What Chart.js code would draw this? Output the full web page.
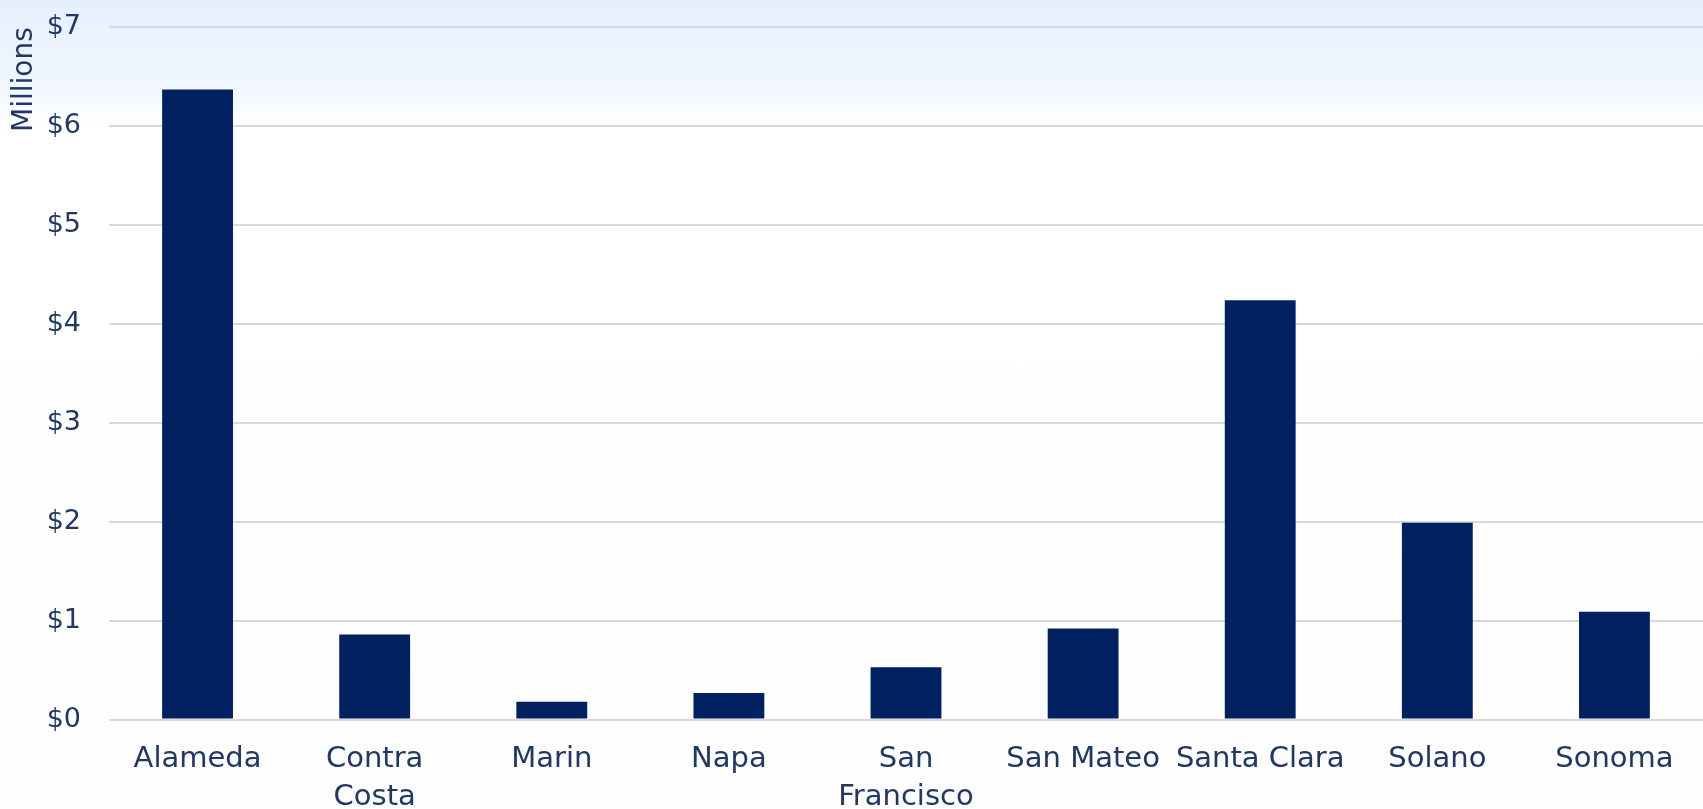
<!DOCTYPE html>
<html>
<head>
<meta charset="utf-8">
<script src="https://cdn.jsdelivr.net/npm/chart.js@4.4.1/dist/chart.umd.min.js"></script>
<style>
  html, body { margin: 0; padding: 0; }
  body {
    width: 1703px; height: 809px; overflow: hidden; position: relative;
    background: linear-gradient(to bottom, #e5effd 0px, #f2f7fe 90px, #ffffff 130px, #fdfdfd 809px);
  }
  /* canvas is a bit taller than the page so the plot fills it like the original */
  #wrap { position: absolute; left: 0; top: -17px; width: 1703px; height: 846px; }
</style>
</head>
<body>
<div id="wrap"><canvas id="myChart"></canvas></div>
<script>
// Bay Area counties, values in millions of dollars
var counties = ['Alameda', ['Contra', 'Costa'], 'Marin', 'Napa', ['San', 'Francisco'], 'San Mateo', 'Santa Clara', 'Solano', 'Sonoma'];
var amounts = [6.37, 0.86, 0.18, 0.27, 0.53, 0.92, 4.24, 1.99, 1.09];
var yTicks = [0, 1, 2, 3, 4, 5, 6, 7];

var textColor = '#203864';
var fontFamily = '"Century Gothic", "DejaVu Sans", sans-serif';

const ctx = document.getElementById('myChart').getContext('2d');
const myChart = new Chart(ctx, {
    type: 'bar',
    data: {
        labels: counties,
        datasets: [{
            label: 'Amount',
            data: amounts,
            backgroundColor: '#002060',
            borderWidth: 0,
            categoryPercentage: 1,
            barPercentage: 0.4
        }]
    },
    options: {
        responsive: true,
        maintainAspectRatio: false,
        animation: false,
        layout: { padding: 0 },
        plugins: {
            legend: { display: false },
            tooltip: { enabled: false }
        },
        scales: {
            x: {
                grid: { display: false },
                border: { display: false },
                ticks: {
                    color: textColor,
                    font: { family: fontFamily, size: 29, lineHeight: 1.3 },
                    maxRotation: 0,
                    autoSkip: false,
                    padding: 13
                }
            },
            y: {
                min: 0,
                max: yTicks[yTicks.length - 1],
                afterBuildTicks: function (axis) {
                    axis.ticks = yTicks.map(function (v) { return { value: v }; });
                },
                afterFit: function (axis) {
                    axis.width = 109;
                },
                grid: { color: '#d9d9d9', lineWidth: 2, drawTicks: false },
                border: { display: false },
                ticks: {
                    color: textColor,
                    font: { family: fontFamily, size: 27 },
                    padding: 28,
                    callback: function (v) { return '$' + v; }
                },
                title: {
                    display: true,
                    text: 'Millions',
                    align: 'end',
                    color: textColor,
                    font: { family: fontFamily, size: 28, lineHeight: 1.2 },
                    padding: { top: 8, bottom: 6 }
                }
            }
        }
    }
});
</script>
</body>
</html>
